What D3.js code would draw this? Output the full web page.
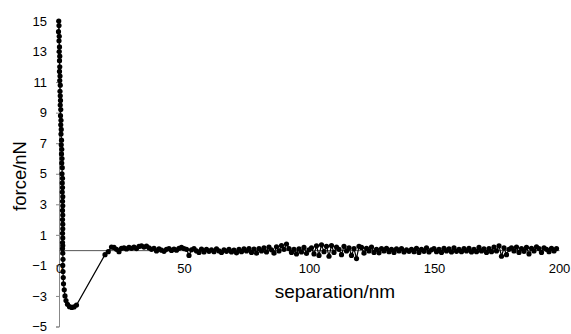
<!DOCTYPE html>
<html>
<head>
<meta charset="utf-8">
<script src="https://cdn.jsdelivr.net/npm/d3@7"></script>
<style>
  body { margin: 0; background: #fff; }
  svg { display: block; font-family: Arial, "Liberation Sans", sans-serif; }
</style>
</head>
<body>
<div id="chart"></div>
<script>
// force curve data

// contact region (steep wall) + adhesion well
let contactSep = [-0.1, 0.0, -0.2, 0.1, 0.0, 0.2, 0.1, 0.3, 0.2, 0.3, 0.2, 0.4, 0.3, 0.5, 0.4, 0.5,
  0.6, 0.5, 0.7, 0.6, 0.8, 0.7, 0.9, 0.8, 1.0, 0.9, 1.1, 1.0, 1.2, 1.1, 1.3, 1.2, 1.4, 1.3, 1.4, 1.3,
  1.5, 1.4, 1.5, 1.4, 1.5, 1.4, 1.5, 1.5, 1.4, 1.5, 1.4, 1.5, 1.4, 1.5,
  1.6, 1.5, 1.6, 1.7, 1.8, 2.1, 2.4, 2.8, 3.4, 4.2, 5.1, 6.0, 7.0]
let contactForce = [15.0, 14.7, 14.3, 14.0, 13.7, 13.3, 13.0, 12.7, 12.4, 12.0, 11.7, 11.4, 11.1, 10.8, 10.4, 10.1,
  9.8, 9.5, 9.2, 8.8, 8.5, 8.2, 7.9, 7.6, 7.2, 6.9, 6.6, 6.3, 6.0, 5.7, 5.4, 5.0, 4.7, 4.4, 4.1, 3.8,
  3.5, 3.2, 2.9, 2.6, 2.3, 2.0, 1.7, 1.4, 1.1, 0.8, 0.5, 0.3, 0.1, -0.2,
  -0.6, -1.0, -1.4, -1.8, -2.2, -2.6, -3.0, -3.3, -3.55, -3.7, -3.75, -3.72, -3.6]

// jump-off and baseline
let baseSep = [18.4, 19.7, 21.0,
  22, 23, 24, 25, 26, 27, 28, 29, 30, 31,
  32, 33, 34, 35, 36, 37, 38, 39, 40, 41,
  42, 43, 44, 45, 46, 47, 48, 49, 50, 51,
  52, 53, 54, 55, 56, 57, 58, 59, 60, 61,
  62, 63, 64, 65, 66, 67, 68, 69, 70, 71,
  72, 73, 74, 75, 76, 77, 78, 79, 80, 81,
  82, 83, 84, 85, 86, 87, 88, 89, 90, 91,
  92, 93, 94, 95, 96, 97, 98, 99, 100, 101,
  102, 103, 104, 105, 106, 107, 108, 109, 110, 111,
  112, 113, 114, 115, 116, 117, 118, 119, 120, 121,
  122, 123, 124, 125, 126, 127, 128, 129, 130, 131,
  132, 133, 134, 135, 136, 137, 138, 139, 140, 141,
  142, 143, 144, 145, 146, 147, 148, 149, 150, 151,
  152, 153, 154, 155, 156, 157, 158, 159, 160, 161,
  162, 163, 164, 165, 166, 167, 168, 169, 170, 171,
  172, 173, 174, 175, 176, 177, 178, 179, 180, 181,
  182, 183, 184, 185, 186, 187, 188, 189, 190, 191,
  192, 193, 194, 195, 196, 197, 198, 199]
let baseForce = [-0.3, -0.1, 0.2,
  0.18, 0.05, -0.10, 0.12, 0.15, 0.08, 0.18, 0.12, 0.20, 0.10,
  0.24, 0.28, 0.20, 0.26, 0.15, 0.05, 0.12, -0.05, 0.08, 0.00,
  -0.08, 0.05, 0.10, -0.02, 0.06, 0.00, 0.12, 0.18, 0.10, 0.05,
  -0.35, 0.02, 0.10, -0.05, -0.15, 0.06, -0.12, 0.05, -0.08, 0.02,
  -0.10, 0.08, -0.05, -0.15, 0.02, -0.08, 0.05, -0.12, 0.00, -0.18,
  0.05, -0.10, 0.08, -0.05, 0.10, -0.15, 0.06, -0.20, 0.10, -0.05,
  0.15, -0.12, 0.20, 0.02, -0.20, 0.22, -0.05, 0.30, 0.05, 0.40,
  0.10, -0.15, 0.05, -0.25, 0.08, -0.12, 0.18, -0.22, 0.02, 0.15,
  -0.25, 0.28, -0.35, 0.35, -0.10, 0.25, -0.40, 0.30, -0.15, 0.20,
  0.05, -0.30, 0.25, -0.05, 0.15, -0.35, 0.10, -0.55, 0.25, 0.18,
  -0.20, 0.12, -0.05, 0.20, -0.15, 0.05, -0.18, 0.10, -0.05, 0.12,
  -0.10, 0.05, -0.15, 0.08, -0.05, 0.10, -0.12, 0.02, -0.08, 0.05,
  -0.10, 0.12, -0.15, 0.05, -0.08, 0.15, -0.12, 0.02, 0.10, -0.10,
  0.05, -0.15, 0.12, -0.05, 0.08, -0.12, 0.15, -0.08, 0.05, -0.10,
  0.10, -0.05, 0.12, -0.12, 0.05, -0.10, 0.18, -0.05, 0.08, -0.15,
  0.10, -0.10, 0.20, -0.05, 0.28, -0.40, 0.15, -0.30, 0.05, 0.15,
  -0.05, 0.20, -0.15, 0.10, -0.08, 0.18, -0.25, 0.12, -0.05, 0.22,
  0.10, -0.15, 0.15, 0.05, -0.10, 0.12, -0.05, 0.10]

let xTicks = [0, 50, 100, 150, 200]
let yTicks = [-5, -3, -1, 1, 3, 5, 7, 9, 11, 13, 15]

let sep = contactSep.concat(baseSep)
let force = contactForce.concat(baseForce)
let data = sep.map((s, i) => ({x: s, y: force[i]}))

let svg = d3.select("#chart")
  .append("svg")
  .attr("width", 571)
  .attr("height", 334)

let x = d3.scaleLinear().domain([0, 200]).range([59, 559])
let y = d3.scaleLinear().domain([-5, 15]).range([326.5, 21])

// y axis (gray line, ticks to the left)
let yAxis = svg.append("g")
  .attr("transform", `translate(${x(0)},0)`)
  .call(d3.axisLeft(y).tickValues(yTicks).tickSize(3).tickPadding(9).tickFormat(d3.format("d")))
yAxis.select(".domain").attr("stroke", "#888")
yAxis.selectAll(".tick line").attr("stroke", "#888")
yAxis.selectAll("text").attr("font-size", 13).attr("fill", "#000")
  .attr("font-family", "Arial, 'Liberation Sans', sans-serif")

// x axis at force = 0
let xAxis = svg.append("g")
  .attr("transform", `translate(0,${y(0)})`)
  .call(d3.axisBottom(x).tickValues(xTicks).tickSize(0).tickPadding(14))
xAxis.select(".domain").attr("stroke", "#555")
xAxis.selectAll("text").attr("font-size", 13).attr("fill", "#000")
  .attr("font-family", "Arial, 'Liberation Sans', sans-serif")

// the curve
let line = d3.line().x(d => x(d.x)).y(d => y(d.y))

svg.append("path")
  .attr("d", line(data))
  .attr("fill", "none")
  .attr("stroke", "#000")
  .attr("stroke-width", 1.2)

svg.selectAll("circle.pt")
  .data(data)
  .enter()
  .append("circle")
  .attr("class", "pt")
  .attr("cx", d => x(d.x))
  .attr("cy", d => y(d.y))
  .attr("r", 2.6)
  .attr("fill", "#000")

// axis titles
svg.append("text")
  .attr("x", 335)
  .attr("y", 298)
  .attr("text-anchor", "middle")
  .attr("font-size", 19)
  .text("separation/nm")

svg.append("text")
  .attr("transform", "translate(26,176) rotate(-90)")
  .attr("text-anchor", "middle")
  .attr("font-size", 18.5)
  .text("force/nN")
</script>
</body>
</html>
